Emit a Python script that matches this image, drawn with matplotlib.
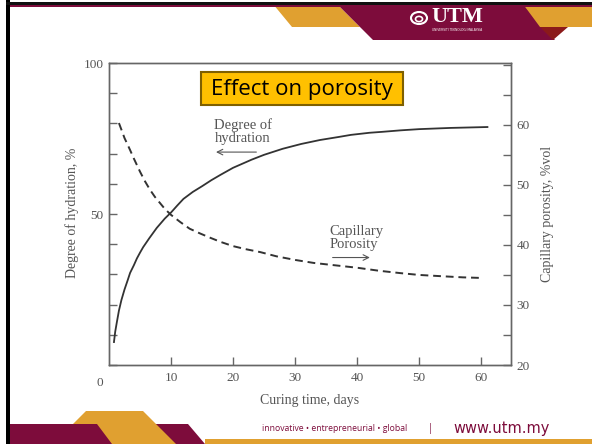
import numpy as np
import matplotlib.pyplot as plt
from matplotlib.patches import Polygon, Rectangle, Circle

# hydration (left axis) and capillary porosity (right axis) vs curing time
days_hyd = [0.8, 1.0, 1.25, 1.6, 2.0, 2.5, 3.0, 3.4, 4.0, 4.5, 5.0, 5.5, 6.5, 7.7, 9.0,
            10, 11, 12, 13.5, 15, 16.5, 18, 20, 23, 25, 28, 31, 34, 37, 39, 42, 44,
            47, 50, 55, 61]
hydration = [7.6, 11.0, 14.0, 18.0, 21.5, 25.0, 28.0, 30.5, 33.0, 35.3, 37.2, 39.0,
             42.0, 45.4, 48.5, 50.5, 52.8, 55.0, 57.3, 59.2, 61.2, 63.0, 65.3, 68.0,
             69.6, 71.6, 73.2, 74.5, 75.5, 76.2, 76.9, 77.2, 77.7, 78.1, 78.5, 78.8]

days_por = [1.6, 2.0, 2.5, 3.0, 3.4, 4.0, 5.0, 5.8, 6.6, 7.4, 8.2, 9.0, 10, 11.5, 13,
            14.7, 16.3, 18, 20, 22, 24.4, 27, 30, 33, 35.6, 40, 43.5, 47, 50, 53.4,
            57, 60]
porosity = [60.3, 59.2, 57.8, 56.7, 55.8, 54.4, 52.2, 50.6, 49.2, 48.0, 47.0, 46.0,
            45.0, 43.8, 42.7, 41.9, 41.2, 40.5, 39.8, 39.3, 38.8, 38.1, 37.5, 37.0,
            36.7, 36.2, 35.7, 35.3, 35.0, 34.8, 34.6, 34.5]

x_ticks = [10, 20, 30, 40, 50, 60]
hyd_ticks = [0, 10, 20, 30, 40, 50, 60, 70, 80, 90, 100]
hyd_labels = ['', '', '', '', '', '50', '', '', '', '', '100']
por_ticks = [20, 25, 30, 35, 40, 45, 50, 55, 60, 65, 70]
por_labels = ['20', '', '30', '', '40', '', '50', '', '60', '', '']

W, H = 592, 444
maroon = '#7d0c3b'
gold = '#e0a030'
grey = '#555555'
serif = 'Liberation Serif'


def px(x, y):
    return (x / W, 1 - y / H)


fig = plt.figure(figsize=(W / 100, H / 100), dpi=100)
fig.patch.set_facecolor('white')


def poly(pts, color, z=1):
    fig.add_artist(Polygon([px(*p) for p in pts], closed=True, transform=fig.transFigure,
                           facecolor=color, edgecolor='none', zorder=z))


# ---- slide frame ----
poly([(6, 0), (10, 0), (10, 444), (6, 444)], 'black', 5)
poly([(6, 2), (592, 2), (592, 5.5), (6, 5.5)], '#111111', 5)
poly([(10, 5.5), (592, 5.5), (592, 7), (10, 7)], maroon, 5)

# top banner
poly([(273, 4), (337, 4), (360, 27), (292, 27)], gold)
poly([(337, 4), (523, 4), (555, 40), (373, 40)], maroon)
poly([(523, 4), (592, 4), (592, 27), (540, 27)], gold)
poly([(540, 27), (568, 27), (553, 40)], '#8b1a1a')

fig.add_artist(Circle(px(419, 18), 8 / W, transform=fig.transFigure, facecolor='none',
                      edgecolor='white', linewidth=1.5, zorder=6))
fig.add_artist(Circle(px(419, 19), 3.5 / W, transform=fig.transFigure, facecolor='none',
                      edgecolor='white', linewidth=1.2, zorder=6))
fig.text(*px(457, 17), 'UTM', color='white', fontsize=16, fontweight='bold',
         family=serif, ha='center', va='center', zorder=6)
fig.text(*px(457, 30), 'UNIVERSITI TEKNOLOGI MALAYSIA', color='white', fontsize=2.2,
         family='DejaVu Sans', ha='center', va='center', zorder=6)

# bottom banner
poly([(10, 424), (188, 424), (205, 444), (10, 444)], maroon)
poly([(86, 411), (143, 411), (176, 444), (112, 444), (97, 424), (73, 424)], gold, 2)
poly([(205, 439), (592, 439), (592, 444), (205, 444)], gold)

fig.text(*px(262, 428), 'innovative \u2022 entrepreneurial \u2022 global', color=maroon,
         fontsize=6.2, family='Open Sans', ha='left', va='center')
fig.text(*px(430, 428), '|', color=maroon, fontsize=7, family='Open Sans',
         ha='center', va='center')
fig.text(*px(453, 428), 'www.utm.my', color=maroon, fontsize=10.5, family='DejaVu Sans',
         ha='left', va='center')

# ---- chart ----
ax = fig.add_axes([109 / W, 1 - 365 / H, (511 - 109) / W, (365 - 63) / H])
ax2 = ax.twinx()

ax.plot(days_hyd, hydration, color='#333333', linewidth=1.3)
ax2.plot(days_por, porosity, color='#333333', linewidth=1.4, linestyle=(0, (4, 2.5)))

ax.set_xlim(0, 64.8)
ax.set_ylim(0, 100)
ax2.set_ylim(20, 70.3)

ax.set_xticks(x_ticks)
ax.set_yticks(hyd_ticks)
ax.set_yticklabels(hyd_labels)
ax2.set_yticks(por_ticks)
ax2.set_yticklabels(por_labels)

for a in (ax, ax2):
    for s in a.spines.values():
        s.set_color('#666666')
        s.set_linewidth(1.0)
    a.tick_params(direction='in', length=6, width=1, color='#666666',
                  labelcolor=grey, labelsize=9.5, pad=4)
    for lab in a.get_xticklabels() + a.get_yticklabels():
        lab.set_family(serif)
ax.tick_params(axis='x', pad=5)

ax.text(-1.5, -0.04, '0', transform=ax.get_xaxis_transform(), ha='center', va='top',
        color=grey, fontsize=9.5, family=serif)

ax.set_xlabel('Curing time, days', family=serif, fontsize=10, color=grey)
ax.set_ylabel('Degree of hydration, %', family=serif, fontsize=10, color=grey)
ax2.set_ylabel('Capillary porosity, %vol', family=serif, fontsize=10, color=grey)
ax.xaxis.set_label_coords(0.5, -0.095)
ax.yaxis.set_label_coords(-0.075, 0.505)
ax2.yaxis.set_label_coords(1.075, 0.5)

# curve labels with arrows
ax.text(17, 77.3, 'Degree of\nhydration', family=serif, fontsize=10.5, color=grey,
        ha='left', va='center', linespacing=1.0)
ax.annotate('', xy=(16.8, 70.5), xytext=(24.2, 70.5),
            arrowprops=dict(arrowstyle='->', color=grey, lw=0.8))
ax2.text(35.6, 41.2, 'Capillary\nPorosity', family=serif, fontsize=10.5, color=grey,
         ha='left', va='center', linespacing=1.0)
ax2.annotate('', xy=(42.5, 37.9), xytext=(35.6, 37.9),
             arrowprops=dict(arrowstyle='->', color=grey, lw=0.8))

# title box
fig.add_artist(Rectangle(px(201, 105), 202 / W, 33 / H, transform=fig.transFigure,
                         facecolor='#ffc000', edgecolor='#7f6000', linewidth=1.5, zorder=10))
fig.text(*px(302, 89), 'Effect on porosity', ha='center', va='center', fontsize=16,
         family='Open Sans', color='black', zorder=11)

fig.savefig('out.png', dpi=100)
